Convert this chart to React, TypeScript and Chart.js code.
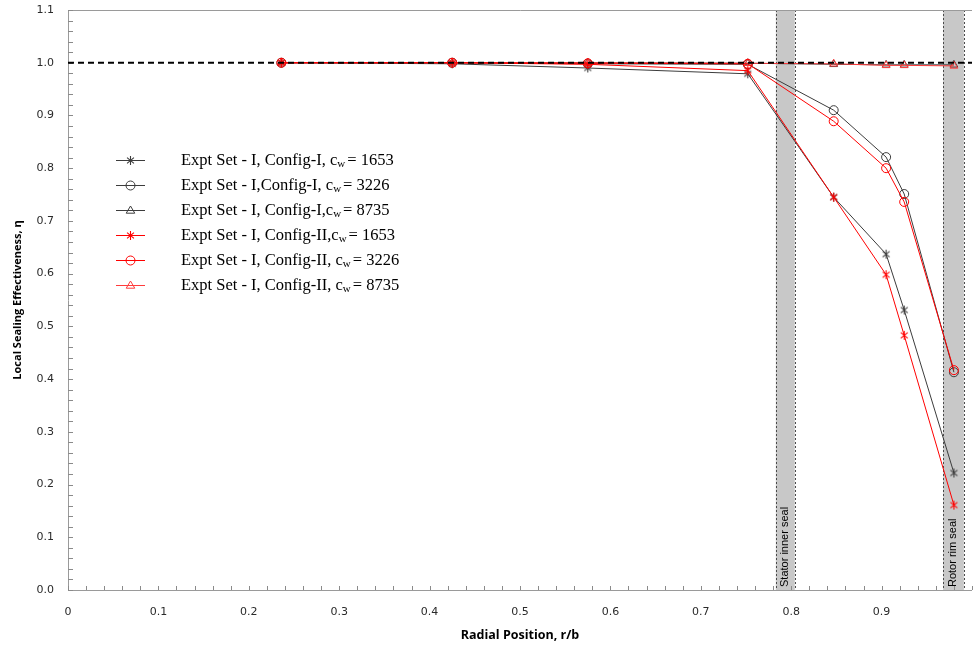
import React, { useEffect, useRef } from "react";
import { Chart, registerables } from "chart.js";

Chart.register(...registerables);

// ---------- data ----------
const radialPositions = [0.236, 0.425, 0.575, 0.752, 0.847, 0.905, 0.925, 0.98];
const cfg1_1653 = [1.0, 0.998, 0.99, 0.979, 0.745, 0.637, 0.531, 0.222];
const cfg1_3226 = [1.0, 1.0, 0.998, 0.997, 0.91, 0.821, 0.751, 0.413];
const cfg1_8735 = [1.0, 1.0, 1.0, 0.999, 0.997, 0.996, 0.996, 0.996];
const cfg2_1653 = [1.0, 1.0, 0.997, 0.985, 0.745, 0.598, 0.483, 0.161];
const cfg2_3226 = [1.0, 1.0, 0.999, 0.998, 0.889, 0.8, 0.736, 0.417];
const cfg2_8735 = [1.0, 1.0, 1.0, 0.999, 0.998, 0.995, 0.995, 0.994];

const legendPrefixes = [
  "Expt Set - I, Config-I, c",
  "Expt Set - I,Config-I, c",
  "Expt Set - I, Config-I,c",
  "Expt Set - I, Config-II,c",
  "Expt Set - I, Config-II, c",
  "Expt Set - I, Config-II, c",
];
const legendSub = "w";
const legendValues = ["= 1653", "= 3226", "= 8735", "= 1653", "= 3226", "= 8735"];

const xTickValues = [0, 0.1, 0.2, 0.3, 0.4, 0.5, 0.6, 0.7, 0.8, 0.9, 1.0];
const yTickValues = [0, 0.1, 0.2, 0.3, 0.4, 0.5, 0.6, 0.7, 0.8, 0.9, 1.0, 1.1];
const minorTickStep = 0.02;
const referenceLevel = 1.0;

const sealBands = [
  { from: 0.783, to: 0.804, label: "Stator inner seal" },
  { from: 0.968, to: 0.991, label: "Rotor rim seal" },
];

const xTitle = "Radial Position, r/b";
const yTitle = "Local Sealing Effectiveness, η";

// ---------- styles ----------
const BLACK = "#3c3c3c";
const RED = "#ff0000";
const RED_LIGHT = "#ff3b3b";

function makeAsterisk(color: string, size = 11) {
  const c = document.createElement("canvas");
  c.width = size;
  c.height = size;
  const g = c.getContext("2d")!;
  g.strokeStyle = color;
  g.lineWidth = 1.1;
  const cx = size / 2, cy = size / 2, r = size / 2 - 1;
  const a = (40 * Math.PI) / 180;
  const dx = r * Math.cos(a), dy = r * Math.sin(a);
  g.beginPath();
  g.moveTo(cx, cy - r);
  g.lineTo(cx, cy + r);
  g.moveTo(cx - dx, cy - dy);
  g.lineTo(cx + dx, cy + dy);
  g.moveTo(cx - dx, cy + dy);
  g.lineTo(cx + dx, cy - dy);
  g.stroke();
  return c;
}

type Marker = "asterisk" | "circle" | "triangle";

const seriesStyles: { ys: number[]; color: string; marker: Marker; order: number }[] = [
  { ys: cfg1_1653, color: BLACK, marker: "asterisk", order: 2 },
  { ys: cfg1_3226, color: BLACK, marker: "circle", order: 2 },
  { ys: cfg1_8735, color: BLACK, marker: "triangle", order: 2 },
  { ys: cfg2_1653, color: RED, marker: "asterisk", order: 1 },
  { ys: cfg2_3226, color: RED, marker: "circle", order: 1 },
  { ys: cfg2_8735, color: RED_LIGHT, marker: "triangle", order: 1 },
];

function drawMarker(ctx: CanvasRenderingContext2D, m: Marker, color: string, x: number, y: number, img?: HTMLCanvasElement) {
  ctx.save();
  ctx.strokeStyle = color;
  ctx.lineWidth = 1;
  if (m === "asterisk" && img) {
    ctx.drawImage(img, Math.round(x - img.width / 2), Math.round(y - img.height / 2));
  } else if (m === "circle") {
    ctx.beginPath();
    ctx.arc(x, y, 4.5, 0, Math.PI * 2);
    ctx.stroke();
  } else if (m === "triangle") {
    const r = 4.5;
    ctx.beginPath();
    ctx.moveTo(x, y - r);
    ctx.lineTo(x + r * 0.95, y + r * 0.6);
    ctx.lineTo(x - r * 0.95, y + r * 0.6);
    ctx.closePath();
    ctx.stroke();
  }
  ctx.restore();
}

export default function App() {
  const ref = useRef<HTMLCanvasElement | null>(null);

  useEffect(() => {
    const canvas = ref.current;
    if (!canvas) return;

    const asterisks: Record<string, HTMLCanvasElement> = {
      [BLACK]: makeAsterisk(BLACK),
      [RED]: makeAsterisk(RED),
    };

    const datasets = seriesStyles.map((s, i) => ({
      label: legendPrefixes[i] + legendSub + " " + legendValues[i],
      data: radialPositions.map((x, k) => ({ x, y: s.ys[k] })),
      borderColor: s.color,
      backgroundColor: "rgba(0,0,0,0)",
      borderWidth: 1,
      pointStyle: s.marker === "asterisk" ? asterisks[s.color] : s.marker === "circle" ? "circle" : "triangle",
      pointRadius: 4.5,
      pointBorderColor: s.color,
      pointBorderWidth: 1,
      pointBackgroundColor: "rgba(0,0,0,0)",
      tension: 0,
      fill: false,
      clip: false,
      order: s.order,
    }));

    const bandsPlugin = {
      id: "bands",
      beforeDatasetsDraw(chart: any) {
        const { ctx, chartArea, scales } = chart;
        const xs = scales.x;
        ctx.save();
        for (const b of sealBands) {
          const x1 = xs.getPixelForValue(b.from);
          const x2 = xs.getPixelForValue(b.to);
          ctx.fillStyle = "#c8c8c8";
          ctx.fillRect(x1, chartArea.top, x2 - x1, chartArea.bottom - chartArea.top);
          ctx.setLineDash([2, 2]);
          ctx.strokeStyle = "#4a4a4a";
          ctx.lineWidth = 1;
          ctx.beginPath();
          ctx.moveTo(Math.round(x1) + 0.5, chartArea.top);
          ctx.lineTo(Math.round(x1) + 0.5, chartArea.bottom);
          ctx.moveTo(Math.round(x2) + 0.5, chartArea.top);
          ctx.lineTo(Math.round(x2) + 0.5, chartArea.bottom);
          ctx.stroke();
          ctx.setLineDash([]);
          ctx.save();
          ctx.translate((x1 + x2) / 2, chartArea.bottom - 3);
          ctx.rotate(-Math.PI / 2);
          ctx.fillStyle = "#000";
          ctx.font = "11px 'Liberation Sans', Arial, sans-serif";
          ctx.textAlign = "left";
          ctx.textBaseline = "middle";
          ctx.fillText(b.label, 0, 0);
          ctx.restore();
        }
        // frame + minor ticks
        ctx.strokeStyle = "#9a9a9a";
        ctx.lineWidth = 1;
        ctx.beginPath();
        ctx.moveTo(chartArea.left + 0.5, chartArea.bottom + 0.5);
        ctx.lineTo(chartArea.left + 0.5, chartArea.top + 0.5);
        ctx.lineTo(chartArea.right, chartArea.top + 0.5);
        ctx.moveTo(chartArea.left, chartArea.bottom + 0.5);
        ctx.lineTo(chartArea.right, chartArea.bottom + 0.5);
        ctx.stroke();
        const ys = scales.y;
        ctx.strokeStyle = "#8a8a8a";
        ctx.beginPath();
        for (let v = 0; v <= xs.max + 1e-9; v += minorTickStep) {
          const px = Math.round(xs.getPixelForValue(v)) + 0.5;
          ctx.moveTo(px, chartArea.bottom);
          ctx.lineTo(px, chartArea.bottom - 4);
        }
        for (let v = 0; v <= ys.max + 1e-9; v += minorTickStep) {
          const py = Math.round(ys.getPixelForValue(v)) + 0.5;
          ctx.moveTo(chartArea.left, py);
          ctx.lineTo(chartArea.left + 5, py);
        }
        ctx.stroke();
        ctx.restore();
      },
      afterDatasetsDraw(chart: any) {
        const { ctx, chartArea, scales } = chart;
        const py = scales.y.getPixelForValue(referenceLevel);
        ctx.save();
        ctx.strokeStyle = "#000";
        ctx.lineWidth = 2;
        ctx.setLineDash([6, 4]);
        ctx.beginPath();
        ctx.moveTo(chartArea.left, py);
        ctx.lineTo(chartArea.right, py);
        ctx.stroke();
        ctx.restore();
      },
      afterDraw(chart: any) {
        const ctx = chart.ctx as CanvasRenderingContext2D;
        ctx.save();
        for (let i = 0; i < seriesStyles.length; i++) {
          const s = seriesStyles[i];
          const y = 160.5 + i * 25;
          ctx.strokeStyle = s.color;
          ctx.lineWidth = 1;
          ctx.beginPath();
          ctx.moveTo(116, y);
          ctx.lineTo(145, y);
          ctx.stroke();
          drawMarker(ctx, s.marker, s.color, 130.5, y, asterisks[s.color]);
          ctx.fillStyle = "#000";
          ctx.textBaseline = "middle";
          ctx.textAlign = "left";
          ctx.font = "16.5px 'Liberation Serif', 'Times New Roman', serif";
          let x = 181;
          ctx.fillText(legendPrefixes[i], x, y);
          x += ctx.measureText(legendPrefixes[i]).width;
          ctx.font = "11px 'Liberation Serif', 'Times New Roman', serif";
          ctx.fillText(legendSub, x, y + 4);
          x += ctx.measureText(legendSub).width + 2;
          ctx.font = "16.5px 'Liberation Serif', 'Times New Roman', serif";
          ctx.fillText(legendValues[i], x, y);
        }
        ctx.restore();
      },
    };

    const chart = new Chart(canvas, {
      type: "line",
      data: { datasets: datasets as any },
      options: {
        responsive: false,
        animation: false,
        events: [],
        layout: { autoPadding: false, padding: { top: 10, right: 1, left: 0, bottom: 0 } },
        plugins: { legend: { display: false }, tooltip: { enabled: false } },
        scales: {
          x: {
            type: "linear",
            min: 0,
            max: 1.0,
            afterBuildTicks: (scale: any) => {
              scale.ticks = xTickValues.map((v) => ({ value: v }));
            },
            afterFit: (scale: any) => {
              scale.height = 57;
              scale.paddingLeft = 0;
              scale.paddingRight = 0;
            },
            grid: { display: false, drawTicks: false },
            border: { display: false },
            ticks: {
              autoSkip: false,
              maxRotation: 0,
              padding: 16,
              color: "#2a2a2a",
              font: { family: "'DejaVu Sans', Verdana, sans-serif", size: 11 },
              callback: (v: any) => (v === 0 ? "0" : v >= 1 ? "" : Number(v).toFixed(1)),
            },
            title: {
              display: true,
              text: xTitle,
              color: "#000",
              font: { family: "'Open Sans', sans-serif", size: 12.5, weight: "bold" },
              padding: { top: 0, bottom: 4 },
            },
          },
          y: {
            type: "linear",
            min: 0,
            max: 1.1,
            afterBuildTicks: (scale: any) => {
              scale.ticks = yTickValues.map((v) => ({ value: v }));
            },
            afterFit: (scale: any) => {
              scale.width = 68;
              scale.paddingTop = 0;
              scale.paddingBottom = 0;
            },
            grid: { display: false, drawTicks: false },
            border: { display: false },
            ticks: {
              autoSkip: false,
              padding: 14,
              color: "#2a2a2a",
              font: { family: "'DejaVu Sans', Verdana, sans-serif", size: 11 },
              callback: (v: any) => Number(v).toFixed(1),
            },
            title: {
              display: true,
              text: yTitle,
              color: "#000",
              font: { family: "'Open Sans', sans-serif", size: 11, weight: "bold" },
              padding: { top: 11, bottom: 0 },
            },
          },
        },
      },
      plugins: [bandsPlugin as any],
    });

    return () => chart.destroy();
  }, []);

  return (
    <div style={{ position: "absolute", left: 0, top: 0, width: 973, height: 647, background: "#fff" }}>
      <canvas ref={ref} width={973} height={647} style={{ display: "block" }} />
    </div>
  );
}
